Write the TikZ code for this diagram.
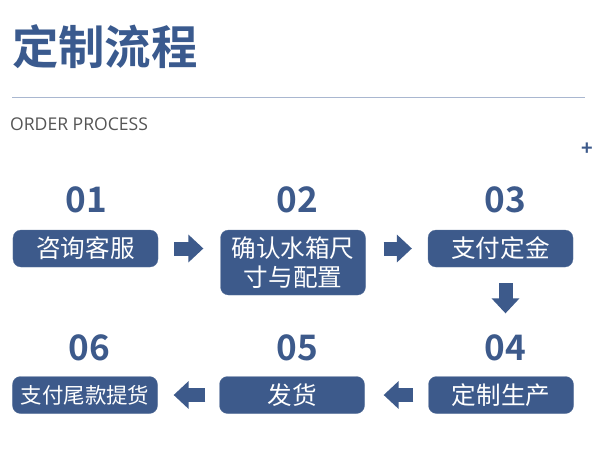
\documentclass[tikz,border=0pt]{standalone}
\usepackage{fontspec}
\usepackage{xcolor}
\usepackage{tikz}
\usetikzlibrary{arrows.meta,calc,positioning}
\setmainfont{Noto Sans}
\newfontfamily\cjk{Noto Sans CJK SC}
\newfontfamily\cjkbold{Noto Sans CJK SC Bold}
\newfontfamily\latinlabel{Open Sans}
\definecolor{brand}{HTML}{3D5A8B}
\definecolor{headline}{HTML}{3A5A8E}
\definecolor{rule}{HTML}{A9B7D0}
\definecolor{subtitle}{HTML}{555555}
\tikzset{
  stepbox/.style={
    rounded corners=4mm,
    fill=brand,
    draw=brand!85!white,
    line width=0.4pt,
    text=white,
    align=center,
    font=\cjk\fontsize{35}{42}\selectfont,
    minimum width=72.5mm,
    minimum height=18.5mm,
    inner sep=0pt
  },
  stepnum/.style={font=\cjkbold\fontsize{50}{55}\selectfont, text=brand, inner sep=0pt},
  flow/.style={draw=brand, line width=7mm, -{Triangle[length=7.5mm, width=13.5mm]}},
  title/.style={font=\cjkbold\fontsize{66}{70}\selectfont, text=headline, inner sep=0pt, anchor=west}
}

\begin{document}
\begin{tikzpicture}[x=0.5mm,y=-0.5mm]
\path[use as bounding box] (0,0) rectangle (600,450);
\fill[white] (0,0) rectangle (600,450);

\node[title] (head) at (12,47) {定制流程};
\draw[rule, line width=0.5mm] (12,97) -- (585,97);
\node[font=\latinlabel\fontsize{25}{28}\selectfont, text=subtitle, anchor=west, inner sep=0pt] (sub) at (10,124) {ORDER PROCESS};
\node[font=\cjkbold\fontsize{28}{30}\selectfont, text=brand, inner sep=0pt] (plus) at (587,149) {+};

% upper row
\node[stepnum] (n1) at (86,200) {01};
\node[stepnum] (n2) at (297,200) {02};
\node[stepnum] (n3) at (505,200) {03};
\node[stepbox] (s1) at (85.5,248.5) {咨询客服};
\node[stepbox, minimum height=32.5mm, font=\cjk\fontsize{35}{41}\selectfont] (s2) at (293,262.5) {确认水箱尺\\寸与配置};
\node[stepbox] (s3) at (500.5,248.5) {支付定金};

% lower row
\node[stepnum] (n6) at (89,347.5) {06};
\node[stepnum] (n5) at (297,347.5) {05};
\node[stepnum] (n4) at (505,347.5) {04};
\node[stepbox, font=\cjk\fontsize{30.5}{36}\selectfont] (s6) at (85,395) {支付尾款提货};
\node[stepbox] (s5) at (292,395) {发货};
\node[stepbox] (s4) at (501,395) {定制生产};

\coordinate (down) at ([xshift=2.5mm]s3.south);
\draw[flow, shorten <=8mm, shorten >=8.5mm] (s1.east) -- (s1.east -| s2.west);
\draw[flow, shorten <=9mm, shorten >=8mm] (s2.east |- s3.west) -- (s3.west);
\draw[flow, shorten <=8mm, shorten >=31.5mm] (down) -- (down |- s4.north);
\draw[flow, shorten <=7.5mm, shorten >=9.5mm] (s4.west) -- (s5.east);
\draw[flow, shorten <=7mm, shorten >=8mm] (s5.west) -- (s6.east);
\end{tikzpicture}
\end{document}
